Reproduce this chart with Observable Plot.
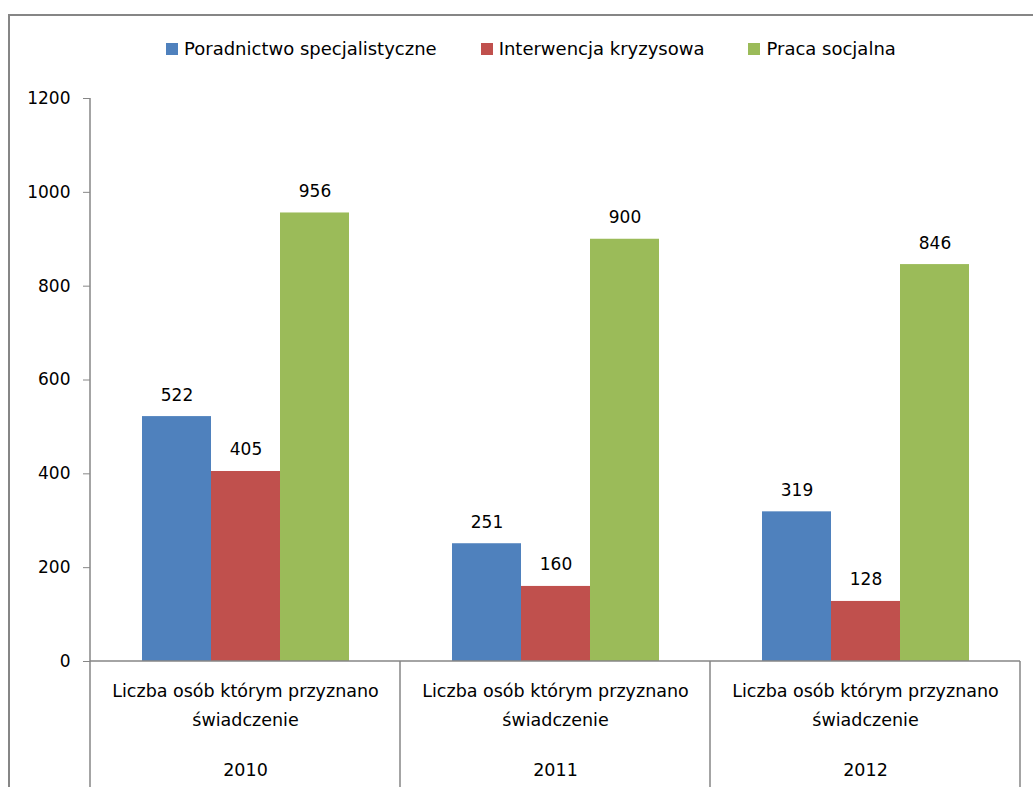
<!DOCTYPE html>
<html>
<head>
<meta charset="utf-8">
<script src="https://cdn.jsdelivr.net/npm/d3@7"></script>
<script src="https://cdn.jsdelivr.net/npm/@observablehq/plot@0.6"></script>
<style>
  html, body { margin: 0; padding: 0; background: #fff; }
  #wrap { position: relative; width: 1033px; height: 787px; overflow: hidden; font-family: "DejaVu Sans", sans-serif; }
  #frame { position: absolute; left: 8px; top: 14px; width: 1040px; height: 800px; border-left: 2px solid #868686; border-top: 2px solid #868686; box-sizing: border-box; }
  #legend { position: absolute; left: 166px; top: 38px; display: flex; align-items: center; gap: 44px; font-size: 18px; color: #000; white-space: nowrap; }
  #legend .item { display: flex; align-items: center; gap: 6px; }
  #legend .sw { width: 12px; height: 12px; display: inline-block; }
  #chart { position: absolute; left: 0; top: 0; }
</style>
</head>
<body>
<div id="wrap">
  <div id="frame"></div>
  <div id="chart"></div>
  <div id="legend"></div>
</div>
<script>
const years = ["2010", "2011", "2012"];
const series = ["Poradnictwo specjalistyczne", "Interwencja kryzysowa", "Praca socjalna"];
const poradnictwo = [522, 251, 319];
const interwencja = [405, 160, 128];
const praca = [956, 900, 846];
const colors = ["#4F81BD", "#C0504D", "#9BBB59"];
const yTicks = [0, 200, 400, 600, 800, 1000, 1200];
const categoryLine1 = "Liczba osób którym przyznano";
const categoryLine2 = "świadczenie";

const seriesValues = [poradnictwo, interwencja, praca];
const data = years.flatMap((yr, i) => series.map((s, j) => ({year: yr, series: s, value: seriesValues[j][i]})));
const cats = years.map(y => ({year: y}));

const font = "DejaVu Sans, sans-serif";
const gray = "#868686";

const plot = Plot.plot({
  width: 1033,
  height: 787,
  marginLeft: 90,
  marginRight: 13,
  marginTop: 98,
  marginBottom: 126,
  style: {fontFamily: font, fontSize: "17px", color: "#000", background: "transparent"},
  fx: {domain: years, padding: 0, axis: null},
  x: {domain: series, paddingInner: 0, paddingOuter: 0.745, axis: null},
  y: {domain: [0, 1200], axis: null},
  color: {domain: series, range: colors},
  marks: [
    Plot.barY(data, {fx: "year", x: "series", y: "value", fill: "series"}),
    Plot.text(data, {fx: "year", x: "series", y: "value", text: d => String(d.value), lineAnchor: "bottom", dy: -16, fontSize: 17, fill: "#000"}),
    Plot.axisY({ticks: yTicks, label: null, tickSize: 7, tickPadding: 13, stroke: gray, strokeOpacity: 1, fontSize: 17, fill: "#000", tickFormat: d => String(d)}),
    Plot.text(cats, {fx: "year", frameAnchor: "bottom", text: () => categoryLine1, dy: 30, lineAnchor: "middle", fontSize: 17.5, fill: "#000"}),
    Plot.text(cats, {fx: "year", frameAnchor: "bottom", text: () => categoryLine2, dy: 59, lineAnchor: "middle", fontSize: 17.5, fill: "#000"}),
    Plot.text(cats, {fx: "year", frameAnchor: "bottom", text: d => d.year, dy: 109, lineAnchor: "middle", fontSize: 17.5, fill: "#000"})
  ]
});

// decorative lines derived from the scales
const fx = plot.scale("fx");
const ys = plot.scale("y");
const svg = d3.select(plot);
const y0 = ys.apply(0);
const yTop = ys.apply(1200);
const left = fx.apply(years[0]);
const right = fx.apply(years[years.length - 1]) + fx.bandwidth;
const g = svg.append("g").attr("stroke", gray).attr("stroke-width", 1.5);
g.append("line").attr("x1", left).attr("x2", right).attr("y1", y0).attr("y2", y0);
g.append("line").attr("x1", left).attr("x2", left).attr("y1", yTop).attr("y2", 787);
years.forEach(yr => {
  const x = fx.apply(yr) + fx.bandwidth;
  g.append("line").attr("x1", x).attr("x2", x).attr("y1", y0).attr("y2", 787);
});

document.getElementById("chart").appendChild(plot);

const legend = d3.select("#legend");
series.forEach((s, i) => {
  const it = legend.append("div").attr("class", "item");
  it.append("span").attr("class", "sw").style("background", colors[i]);
  it.append("span").text(s);
});
</script>
</body>
</html>
